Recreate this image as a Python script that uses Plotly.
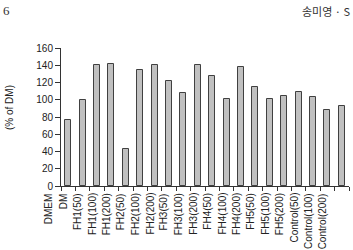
import plotly.graph_objects as go

labels = ["DMEM", "DM", "FH1(50)", "FH1(100)", "FH1(200)", "FH2(50)", "FH2(100)",
          "FH2(200)", "FH3(50)", "FH3(100)", "FH3(200)", "FH4(50)", "FH4(100)",
          "FH4(200)", "FH5(50)", "FH5(100)", "FH5(200)", "Control(50)",
          "Control(100)", "Control(200)"]
values = [76, 100, 140, 142, 43, 134.5, 140, 122, 107.5, 140, 127, 100.5, 138.5,
          114.5, 100.5, 104.5, 108.5, 103, 88, 93]
y_ticks = [0, 20, 40, 60, 80, 100, 120, 140, 160]

W, H = 353, 250
L, R, T, B = 61, 4, 48, 64
pw, ph = W - L - R, H - T - B
N = len(values)

def px(xp):
    return (xp - L) / pw

def py(yp):
    return (H - B - yp) / ph

positions = [i + 0.5 for i in range(N)]

fig = go.Figure()
fig.add_trace(go.Bar(
    x=positions, y=values, width=0.42,
    marker=dict(color="#c0c0c0", line=dict(color="#404040", width=1)),
))

SANS = "Liberation Sans, Arial, sans-serif"
annotations = []
for i, lab in enumerate(labels):
    annotations.append(dict(
        x=(i - 1 + 0.15) / N, y=py(191), xref="paper", yref="paper",
        text=lab, textangle=-90, showarrow=False,
        xanchor="center", yanchor="top",
        font=dict(family=SANS, size=10, color="#222"),
    ))
annotations.append(dict(
    x=px(9), y=py(108), xref="paper", yref="paper", text="(% of DM)",
    textangle=-90, showarrow=False, xanchor="center", yanchor="middle",
    font=dict(family=SANS, size=10, color="#222"),
))
annotations.append(dict(
    x=px(1), y=py(1), xref="paper", yref="paper", text="6",
    showarrow=False, xanchor="left", yanchor="top",
    font=dict(family="Liberation Serif, DejaVu Serif, serif", size=13, color="#333"),
))
annotations.append(dict(
    x=px(352), y=py(1), xref="paper", yref="paper", text="송미영 · S",
    showarrow=False, xanchor="right", yanchor="top",
    font=dict(family="Noto Sans CJK KR", size=11, color="#333"),
))

fig.update_layout(
    width=W, height=H,
    margin=dict(l=L, r=R, t=T, b=B),
    paper_bgcolor="white", plot_bgcolor="white",
    showlegend=False, annotations=annotations,
    bargap=0,
)
fig.update_xaxes(
    range=[0, N], tickmode="array", tickvals=list(range(N + 1)),
    showticklabels=False, ticks="outside", ticklen=4, tickcolor="#333",
    showline=True, linecolor="#333", linewidth=1, showgrid=False, zeroline=False,
)
fig.update_yaxes(
    range=[0, 160], tickmode="array", tickvals=y_ticks,
    ticks="outside", ticklen=5, tickcolor="#333",
    showline=True, linecolor="#333", linewidth=1, showgrid=False, zeroline=False,
    tickfont=dict(family=SANS, size=10, color="#222"),
)

fig.write_html("out.html")
